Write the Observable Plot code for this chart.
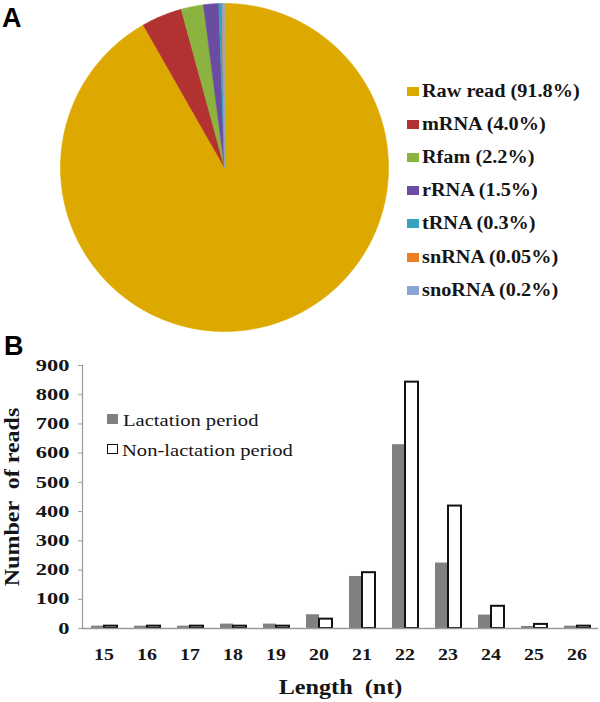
<!DOCTYPE html>
<html>
<head>
<meta charset="utf-8">
<script src="https://cdn.jsdelivr.net/npm/d3@7"></script>
<script src="https://cdn.jsdelivr.net/npm/@observablehq/plot@0.6"></script>
<style>
  html, body { margin: 0; padding: 0; background: #fff; }
  #fig { position: relative; width: 600px; height: 702px; overflow: hidden; background: #fff; }
  .panel { position: absolute; font-family: "Liberation Sans", Arial, sans-serif; font-weight: bold; color: #000; line-height: 1; font-size: 27px; }
  #pie { position: absolute; left: 0; top: 0; }
  #bars { position: absolute; left: 0; top: 340px; }
  #bars svg text { font-family: "Liberation Serif", "Times New Roman", serif; font-weight: bold; fill: #151515; }
  #bars g[aria-label="y-axis tick label"] { font-size: 16.3px; }
  #bars g[aria-label="fx-axis tick label"] { font-size: 17px; }
  #bars g[aria-label="y-axis label"] { font-size: 20px; }
  #bars g[aria-label="fx-axis label"] { font-size: 22px; }
  .legend { position: absolute; font-family: "Liberation Serif", "Times New Roman", serif; color: #151515; }
  .legend .row { display: flex; align-items: center; white-space: nowrap; }
  .legend .sw { display: inline-block; flex: none; }
  .legend .tx { display: inline-block; transform-origin: left center; }
</style>
</head>
<body>
<div id="fig">
  <div id="pie"></div>
  <div id="bars"></div>
  <div class="panel" style="left:2px; top:5px;">A</div>
  <div class="panel" style="left:4px; top:333px;">B</div>
  <div id="pieLegend" class="legend" style="left:407px; top:74.6px; font-size:18px; font-weight:bold; font-family:'Liberation Serif', serif;"></div>
  <div id="barLegend" class="legend" style="left:107px; top:405px; font-size:17.6px; font-weight:normal; font-family:'Liberation Serif', serif;"></div>
</div>
<script>
// ---- Panel A data ----
const pieCategories = ["Raw read", "mRNA", "Rfam", "rRNA", "tRNA", "snRNA", "snoRNA"];
const piePercents = [91.8, 4.0, 2.2, 1.5, 0.3, 0.05, 0.2];
const piePercentLabels = ["91.8%", "4.0%", "2.2%", "1.5%", "0.3%", "0.05%", "0.2%"];
const pieColors = ["#DDA900", "#B23131", "#8CB33F", "#6A4DA0", "#35A2C2", "#EE7E22", "#8AA6D6"];

// ---- Panel B data ----
const lengths = [15, 16, 17, 18, 19, 20, 21, 22, 23, 24, 25, 26];
const lactation = [8, 8, 8, 15, 15, 47, 178, 629, 224, 46, 7, 8];
const nonLactation = [8, 8, 8, 8, 8, 32, 191, 843, 419, 76, 14, 8];
const seriesNames = ["Lactation period", "Non-lactation period"];
const barColors = ["#808080", "#ffffff"];
const yTicks = [0, 100, 200, 300, 400, 500, 600, 700, 800, 900];

// ---- Pie (drawn as closed filled lines on x/y scales) ----
const pieData = pieCategories.map((name, i) => ({name, value: piePercents[i]}));
const arcs = d3.pie().sort(null).value(d => d.value)(pieData);
const piePoints = arcs.flatMap(a => {
  const n = Math.max(2, Math.ceil((a.endAngle - a.startAngle) / (Math.PI / 180)));
  const pts = [{key: a.data.name, x: 0, y: 0}];
  for (let i = 0; i <= n; i++) {
    const t = a.startAngle + (a.endAngle - a.startAngle) * i / n;
    pts.push({key: a.data.name, x: Math.sin(t), y: Math.cos(t)});
  }
  return pts;
});

const pie = Plot.plot({
  width: 400, height: 335,
  marginLeft: 60, marginRight: 12, marginTop: 3, marginBottom: 4,
  x: {domain: [-1, 1], axis: null},
  y: {domain: [-1, 1], axis: null},
  color: {domain: pieCategories, range: pieColors},
  marks: [
    Plot.line(piePoints, {x: "x", y: "y", z: "key", fill: "key", stroke: "key", strokeWidth: 0.6, curve: "linear-closed"})
  ]
});
document.getElementById("pie").appendChild(pie);

// ---- Bars ----
const barData = lengths.flatMap((L, i) => [
  {length: L, series: seriesNames[0], value: lactation[i]},
  {length: L, series: seriesNames[1], value: nonLactation[i]}
]);

const bars = Plot.plot({
  width: 600, height: 362,
  marginTop: 25, marginBottom: 74, marginLeft: 81, marginRight: 2,
  fx: {domain: lengths, padding: 0},
  x: {domain: seriesNames, paddingInner: 0, paddingOuter: 0.6, axis: null},
  y: {domain: [0, 900]},
  color: {domain: seriesNames, range: barColors},
  marks: [
    Plot.barY(barData.filter(d => d.series === seriesNames[0]), {fx: "length", x: "series", y: "value", fill: "series"}),
    Plot.barY(barData.filter(d => d.series === seriesNames[1]), {fx: "length", x: "series", y: "value", fill: "series", stroke: "#111", strokeWidth: 2}),
    Plot.ruleY([0], {stroke: "#9a9a9a", strokeWidth: 1.5}),
    Plot.frame({anchor: "left", facetAnchor: "left", stroke: "#9a9a9a", strokeWidth: 1.2}),
    Plot.axisY({ticks: yTicks, tickSize: 4, tickPadding: 9, stroke: "#9a9a9a", label: "Number  of reads", labelArrow: false, labelAnchor: "center", labelOffset: 78}),
    Plot.axisFx({anchor: "bottom", tickSize: 0, tickPadding: 19, label: "Length  (nt)", labelArrow: false, labelAnchor: "center", labelOffset: 65})
  ]
});
document.getElementById("bars").appendChild(bars);

function stretch(root, selector, k) {
  root.querySelectorAll(selector).forEach(t => {
    const L = t.getComputedTextLength();
    t.setAttribute("textLength", (L * k).toFixed(2));
    t.setAttribute("lengthAdjust", "spacingAndGlyphs");
  });
}
stretch(bars, 'g[aria-label="y-axis tick label"] text', 1.38);
stretch(bars, 'g[aria-label="fx-axis tick label"] text', 1.17);
stretch(bars, 'g[aria-label="y-axis label"] text', 1.2);
stretch(bars, 'g[aria-label="fx-axis label"] text', 1.1);

// ---- Legends ----
const pieLegend = document.getElementById("pieLegend");
pieCategories.forEach((c, i) => {
  const row = document.createElement("div");
  row.className = "row";
  row.style.height = "33.2px";
  row.style.lineHeight = "33.2px";
  const sw = document.createElement("span");
  sw.className = "sw";
  sw.style.cssText = `width:12px;height:9px;background:${pieColors[i]};margin-right:3px;`;
  const tx = document.createElement("span");
  tx.className = "tx";
  tx.style.transform = "scaleX(1.125)";
  tx.textContent = `${c} (${piePercentLabels[i]})`;
  row.append(sw, tx);
  pieLegend.appendChild(row);
});

const barLegend = document.getElementById("barLegend");
seriesNames.forEach((s, i) => {
  const row = document.createElement("div");
  row.className = "row";
  row.style.height = "30px";
  row.style.lineHeight = "30px";
  const sw = document.createElement("span");
  sw.className = "sw";
  sw.style.cssText = i === 0
    ? `width:11px;height:10px;background:${barColors[0]};margin-right:5px;margin-top:-3px;`
    : `width:8.5px;height:8px;background:${barColors[1]};border:1.5px solid #111;margin-right:4px;margin-top:-3px;`;
  const tx = document.createElement("span");
  tx.className = "tx";
  tx.style.transform = "scaleX(1.17)";
  tx.textContent = s;
  row.append(sw, tx);
  barLegend.appendChild(row);
});
</script>
</body>
</html>
